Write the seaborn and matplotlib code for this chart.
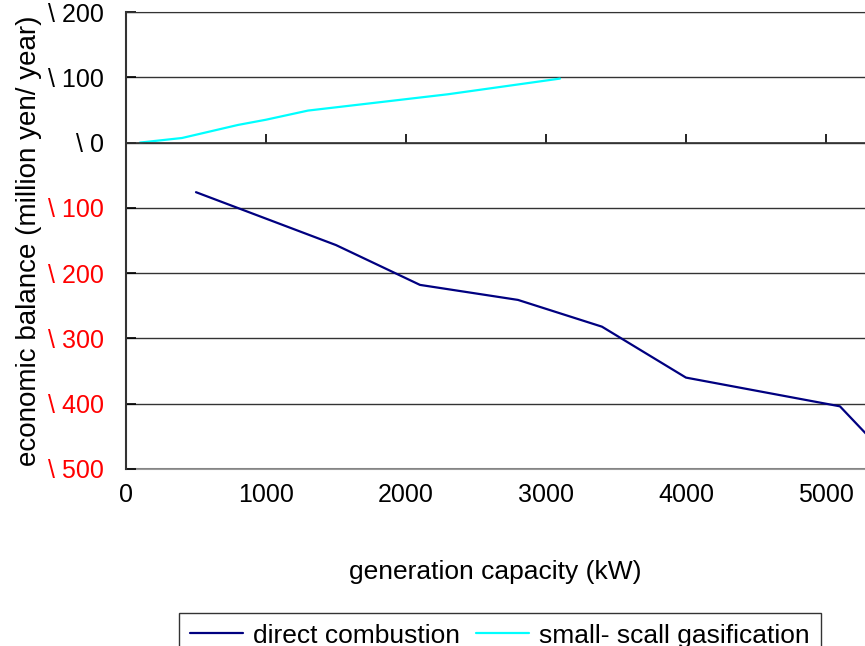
import pandas as pd
import matplotlib.pyplot as plt
import seaborn as sns

# Values
direct_x = [500, 1500, 2100, 2800, 3400, 4000, 5100, 5450]
direct_y = [-76, -157, -218, -241, -282, -360, -404, -483]
gasif_x = [100, 400, 800, 1000, 1300, 2300, 3100]
gasif_y = [0, 7, 27, 35, 49, 74, 98]

x_ticks = [0, 1000, 2000, 3000, 4000, 5000]
y_ticks = [200, 100, 0, -100, -200, -300, -400, -500]
y_labels = ["\\ 200", "\\ 100", "\\ 0", "\\ 100", "\\ 200", "\\ 300", "\\ 400", "\\ 500"]
series_names = ["direct combustion", "small- scall gasification"]

df_direct = pd.DataFrame({"capacity": direct_x, "balance": direct_y})
df_gasif = pd.DataFrame({"capacity": gasif_x, "balance": gasif_y})

sns.set_style("white")
plt.rcParams["font.family"] = ["Liberation Sans", "DejaVu Sans"]
plt.rcParams["text.color"] = "black"
plt.rcParams["axes.labelcolor"] = "black"
plt.rcParams["xtick.color"] = "black"
plt.rcParams["ytick.color"] = "black"

fig = plt.figure(figsize=(8.65, 6.46), dpi=100)
ax = fig.add_axes([126 / 865, 1 - 469 / 646, 739 / 865, 457 / 646])

sns.lineplot(data=df_direct, x="capacity", y="balance", color="#000080", lw=1.6, ax=ax)
sns.lineplot(data=df_gasif, x="capacity", y="balance", color="#00FFFF", lw=1.6, ax=ax)

ax.set_xlim(0, 5279)
ax.set_ylim(-500, 200)

# y axis
ax.set_yticks(y_ticks)
ax.set_yticklabels(y_labels)
ax.tick_params(axis="y", direction="in", length=7, width=1.2, pad=16, labelsize=18, left=True)
for val, lab in zip(y_ticks, ax.get_yticklabels()):
    lab.set_color("red" if val < 0 else "black")
ax.yaxis.grid(True, color="#333333", lw=1)
ax.xaxis.grid(False)
ax.set_ylabel("economic balance (million yen/ year)", fontsize=20, color="black")
ax.yaxis.set_label_coords(-0.113, 0.5)

# x axis crosses at zero, labels at the bottom
ax.spines["bottom"].set_position(("data", 0))
ax.spines["bottom"].set_color("#333333")
ax.spines["bottom"].set_linewidth(1.2)
ax.set_xticks(x_ticks[1:])
ax.tick_params(axis="x", direction="in", length=6.5, width=1.2, labelbottom=False, bottom=True)
ax.spines["right"].set_visible(False)
ax.spines["top"].set_color("#333333")
ax.spines["left"].set_color("#333333")
ax.spines["left"].set_linewidth(1.5)
ax.set_xlabel("")

sec = ax.secondary_xaxis("bottom")
sec.set_xticks(x_ticks)
sec.tick_params(length=0, pad=10, labelsize=18, labelcolor="black")
sec.spines["bottom"].set_color("#999999")
sec.spines["bottom"].set_linewidth(1.5)
sec.set_xlabel("generation capacity (kW)", fontsize=19, color="black", labelpad=38)

handles = ax.get_lines()[:2]
leg = fig.legend(handles, series_names, loc="upper center", bbox_to_anchor=(0.578, 0.051),
                 ncol=2, frameon=True, fancybox=False, edgecolor="black", fontsize=19,
                 handlelength=2.0, columnspacing=0.6, handletextpad=0.4, borderaxespad=0)
leg.get_frame().set_linewidth(1.0)

fig.savefig("out.png", dpi=100)
